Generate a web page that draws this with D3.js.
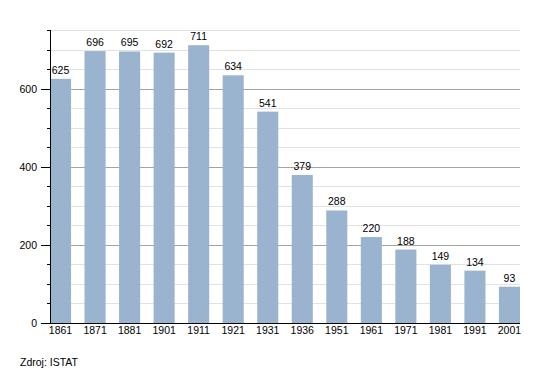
<!DOCTYPE html>
<html lang="en">
<head>
<meta charset="utf-8">
<title>Populace</title>
<script src="https://cdn.jsdelivr.net/npm/d3@7"></script>
<style>
body { margin: 0; background: #fff; }
text { font-family: "Liberation Sans", Arial, sans-serif; font-size: 10.5px; fill: #000; }
</style>
</head>
<body>
<svg width="550" height="373"></svg>
<script>
var years = ["1861", "1871", "1881", "1901", "1911", "1921", "1931", "1936", "1951", "1961", "1971", "1981", "1991", "2001"];
var population = [625, 696, 695, 692, 711, 634, 541, 379, 288, 220, 188, 149, 134, 93];
var majorTicks = [0, 200, 400, 600];
var minorTicks = d3.range(50, 751, 50);

var svg = d3.select("svg");

var x = d3.scaleBand()
    .domain(years)
    .range([50, 520])
    .paddingInner(0.39)
    .paddingOuter(0);

var y = d3.scaleLinear()
    .domain([0, 750])
    .range([323, 30]);

// grid
svg.append("g").selectAll("line")
    .data(minorTicks.filter(function(d) { return majorTicks.indexOf(d) < 0; }))
    .enter().append("line")
    .attr("x1", 50).attr("x2", 520)
    .attr("y1", function(d) { return Math.round(y(d)) + 0.5; })
    .attr("y2", function(d) { return Math.round(y(d)) + 0.5; })
    .attr("stroke", "#e2e2e2");

svg.append("g").selectAll("line")
    .data(majorTicks.slice(1))
    .enter().append("line")
    .attr("x1", 50).attr("x2", 520)
    .attr("y1", function(d) { return Math.round(y(d)) + 0.5; })
    .attr("y2", function(d) { return Math.round(y(d)) + 0.5; })
    .attr("stroke", "#a3a3a3");

// bars
svg.append("g").selectAll("rect")
    .data(population)
    .enter().append("rect")
    .attr("x", function(d, i) { return x(years[i]); })
    .attr("y", function(d) { return y(d); })
    .attr("width", x.bandwidth())
    .attr("height", function(d) { return y(0) - y(d); })
    .attr("fill", "#9ab3cf");

svg.append("g").selectAll("text")
    .data(population)
    .enter().append("text")
    .attr("x", function(d, i) { return x(years[i]) + x.bandwidth() / 2; })
    .attr("y", function(d) { return y(d) - 5; })
    .attr("text-anchor", "middle")
    .text(function(d) { return d; });

// y axis
var yAxis = svg.append("g");
yAxis.append("line")
    .attr("x1", 50.5).attr("x2", 50.5)
    .attr("y1", 30).attr("y2", 323)
    .attr("stroke", "#000");
yAxis.selectAll(".minor")
    .data(minorTicks)
    .enter().append("line")
    .attr("x1", 47).attr("x2", 50)
    .attr("y1", function(d) { return Math.round(y(d)) + 0.5; })
    .attr("y2", function(d) { return Math.round(y(d)) + 0.5; })
    .attr("stroke", "#000");
yAxis.selectAll(".major")
    .data(majorTicks)
    .enter().append("line")
    .attr("x1", 41).attr("x2", 50)
    .attr("y1", function(d) { return Math.round(y(d)) + 0.5; })
    .attr("y2", function(d) { return Math.round(y(d)) + 0.5; })
    .attr("stroke", "#000");
yAxis.selectAll("text")
    .data(majorTicks)
    .enter().append("text")
    .attr("x", 37)
    .attr("y", function(d) { return y(d) + 4; })
    .attr("text-anchor", "end")
    .text(function(d) { return d; });

// x axis
svg.append("line")
    .attr("x1", 50).attr("x2", 520)
    .attr("y1", 323.5).attr("y2", 323.5)
    .attr("stroke", "#000");
svg.append("g").selectAll("text")
    .data(years)
    .enter().append("text")
    .attr("x", function(d) { return x(d) + x.bandwidth() / 2; })
    .attr("y", 334)
    .attr("text-anchor", "middle")
    .text(function(d) { return d; });

svg.append("text")
    .attr("x", 20)
    .attr("y", 366)
    .text("Zdroj: ISTAT");
</script>
</body>
</html>
